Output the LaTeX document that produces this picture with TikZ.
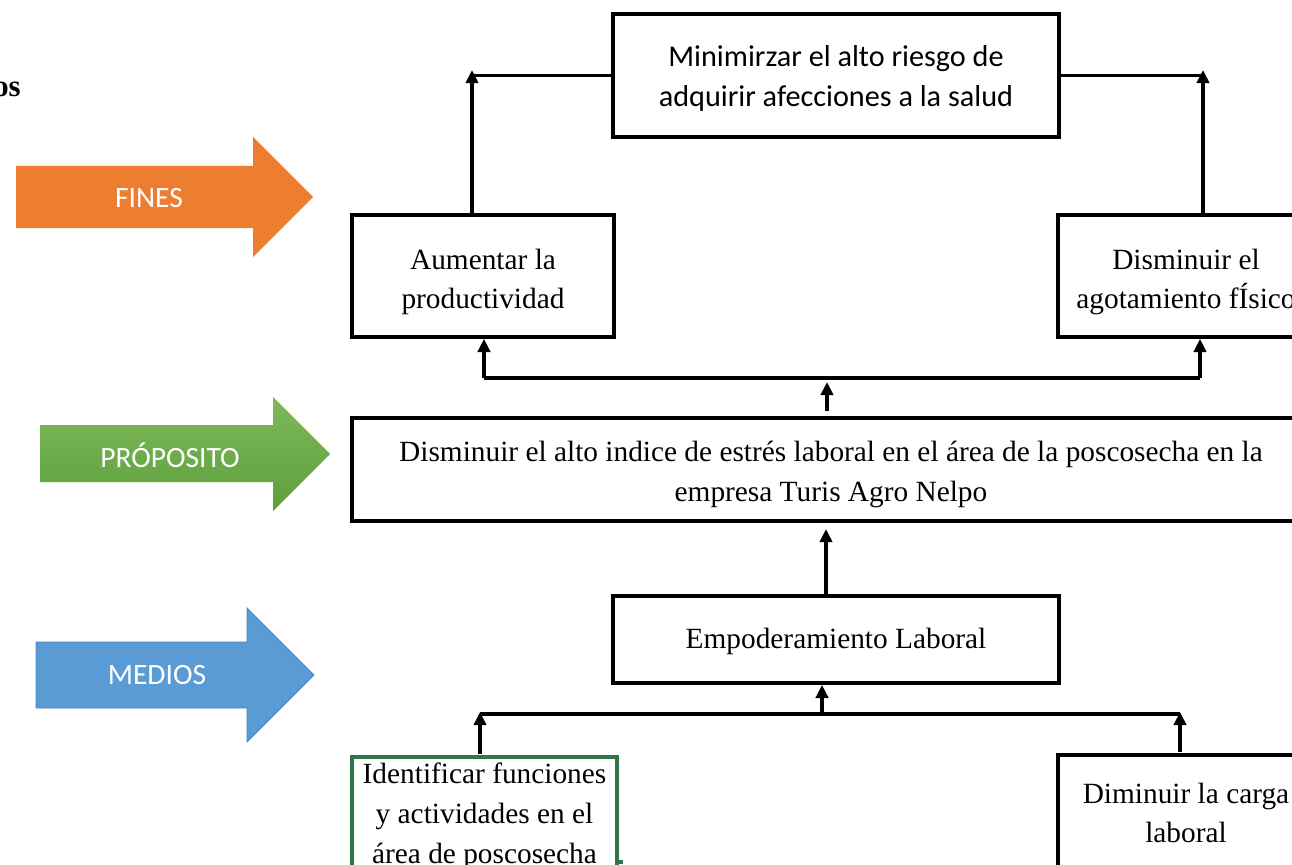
\documentclass[tikz,border=0pt]{standalone}
\usepackage{fontspec}
\setmainfont{Liberation Serif}
\newfontfamily\calfont{Carlito}
\usetikzlibrary{arrows.meta,calc}
\definecolor{finesor}{HTML}{ED7D31}
\definecolor{proptop}{HTML}{7DB95A}
\definecolor{propbot}{HTML}{5E9F3C}
\definecolor{medblue}{HTML}{5B9BD5}
\definecolor{medline}{HTML}{4A86C0}
\definecolor{greenbox}{RGB}{46,117,72}
\begin{document}
\begin{tikzpicture}[x=0.02cm,y=-0.02cm,
  tbox/.style={draw=black,line width=2.1pt,fill=white,inner sep=0pt},
  ttext/.style={inner sep=0pt,align=center,font=\fontsize{16.7}{22.7}\selectfont},
  ctext/.style={inner sep=0pt,align=center,font=\calfont\fontsize{17.2}{22.7}\selectfont},
  conn/.style={line width=2.1pt,draw=black},
  arr/.style={conn,-{Triangle[length=7.5pt,width=7pt]}},
  blabel/.style={text=white,font=\calfont\fontsize{16.8}{18}\selectfont}]
\useasboundingbox (0,0) rectangle (1292,865);
\clip (0,0) rectangle (1292,865);
\fill[white] (0,0) rectangle (1292,865);

% heading fragment
\node[anchor=base east,inner sep=0pt,font=\fontsize{17.5}{20}\selectfont\bfseries] (os) at (21,97) {os};

% block arrows
\fill[finesor] (16,166) -- (253,166) -- (253,137) -- (313,197) -- (253,257) -- (253,228) -- (16,228) -- cycle;
\node[blabel] (fines) at (149,198) {FINES};
\shade[top color=proptop,bottom color=propbot] (40,425) -- (273,425) -- (273,397) -- (330,454) -- (273,511) -- (273,482) -- (40,482) -- cycle;
\node[blabel] (propl) at (170,455) {PRÓPOSITO};
\filldraw[fill=medblue,draw=medline,line width=0.5pt] (36,642) -- (247,642) -- (247,608) -- (314,675) -- (247,742) -- (247,708) -- (36,708) -- cycle;
\node[blabel] (medios) at (157,675) {MEDIOS};

% boxes
\node[tbox,minimum width=446*0.02cm,minimum height=123*0.02cm] (min) at (836,75.5) {};
\node[ctext] (mint) at ($(min.center)+(0,3)$) {Minimirzar el alto riesgo de\\adquirir afecciones a la salud};
\node[tbox,minimum width=262*0.02cm,minimum height=122*0.02cm] (aum) at (483,276) {};
\node[ttext] (aumt) at ($(aum.center)+(0,6)$) {Aumentar la\\productividad};
\node[tbox,minimum width=256*0.02cm,minimum height=122*0.02cm] (dis) at (1186,276) {};
\node[ttext] (dist) at ($(dis.center)+(0,6)$) {Disminuir el\\agotamiento fÍsico};
\node[tbox,minimum width=958*0.02cm,minimum height=103*0.02cm] (prop) at (831,469.5) {};
\node[ttext] (propt) at ($(prop.center)+(0,5)$) {Disminuir el alto indice de estrés laboral en el área de la poscosecha en la\\empresa Turis Agro Nelpo};
\node[tbox,minimum width=446*0.02cm,minimum height=87*0.02cm] (emp) at (836,639.5) {};
\node[ttext] (empt) at ($(emp.center)+(0,2)$) {Empoderamiento Laboral};
\node[tbox,draw=greenbox,minimum width=265*0.02cm,minimum height=140*0.02cm] (idf) at (484.5,827) {};
\node[ttext] (idft) at ($(idf.center)+(0,-11)$) {Identificar funciones\\y actividades en el\\área de poscosecha};
\node[tbox,minimum width=256*0.02cm,minimum height=118*0.02cm] (dml) at (1186,814) {};
\node[ttext] (dmlt) at ($(dml.center)+(0,-1)$) {Diminuir la carga\\laboral};
\draw[greenbox,line width=2.1pt] (idf.east |- 0,862) -- ++(4,0) coordinate (gt);

% coordinates of connector bends
\coordinate (tl) at (472,70);
\coordinate (tr) at (1203,70);
\coordinate (hl) at (484,378);
\coordinate (hr) at (1200,378);
\coordinate (pm) at (827,382);
\coordinate (ep) at (826,529);
\coordinate (bl) at (480,714);
\coordinate (br) at (1180,714);
\coordinate (bm) at (822,714);

% top connectors
\draw[arr] (aum.north -| tl) -- (tl);
\draw[conn] (min.west) -- (min.west -| tl);
\draw[arr] (dis.north -| tr) -- (tr);
\draw[conn] (min.east) -- (min.east -| tr);

% middle connectors
\draw[conn] (hl) -- (hr);
\draw[arr] (hl) -- (aum.south -| hl);
\draw[arr] (hr) -- (dis.south -| hr);
\draw[arr] ($(prop.north -| pm)+(0,-5)$) -- (pm);
\draw[arr] (emp.north -| ep) -- (ep);

% bottom connectors
\draw[conn] (bl) -- (br);
\draw[arr] ($(idf.north -| bl)+(0,-1)$) -- ($(bl)+(0,-2)$);
\draw[arr] ($(dml.north -| br)+(0,-1)$) -- ($(br)+(0,-2)$);
\draw[arr] (bm) -- (emp.south -| bm);
\end{tikzpicture}
\end{document}
